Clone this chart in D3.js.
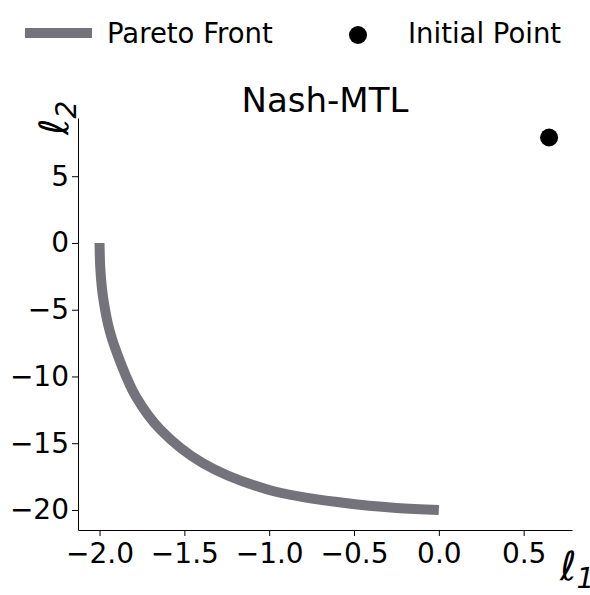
<!DOCTYPE html><html><head><meta charset="utf-8"><script src="https://cdn.jsdelivr.net/npm/d3@7"></script>
<style>body{margin:0;background:#fff}text{font-family:"DejaVu Sans",sans-serif}</style></head><body>
<script>
const frontL1=[-2.0,-1.995,-1.98,-1.94,-1.875,-1.786,-1.64,-1.39,-1.0,-0.54,-0.25,0.0];
const frontL2=[0,-2.0,-4.0,-6.6,-9.0,-11.5,-14.0,-16.5,-18.5,-19.5,-19.85,-20.0];
const initialPoint=[0.65,7.9];
const xTicks=[-2.0,-1.5,-1.0,-0.5,0.0,0.5];
const yTicks=[5,0,-5,-10,-15,-20];
const W=590,H=595;
const svg=d3.select("body").append("svg").attr("width",W).attr("height",H);
const x=d3.scaleLinear().domain([-2.127,0.785]).range([78,572]);
const y=d3.scaleLinear().domain([9.36,-21.5]).range([118,530]);
const fmt=d=>(d<0?"\u2212":"")+Math.abs(d).toFixed(1);
const gx=svg.append("g").attr("transform","translate(0,530)").call(d3.axisBottom(x).tickValues(xTicks).tickFormat(fmt).tickSize(6).tickSizeOuter(0));
const gy=svg.append("g").attr("transform","translate(78,0)").call(d3.axisLeft(y).tickValues(yTicks).tickFormat(d=>(d<0?"\u2212":"")+Math.abs(d)).tickSize(6).tickSizeOuter(0));
[gx,gy].forEach(g=>{g.selectAll("text").attr("font-size",28).attr("fill","#000");g.selectAll("line,path").attr("stroke","#000").attr("stroke-width",1);});
gx.selectAll("text").attr("dy","0.85em");
const pts=frontL1.map((v,i)=>[v,frontL2[i]]);
svg.append("path").attr("d",d3.line().x(d=>x(d[0])).y(d=>y(d[1])).curve(d3.curveCatmullRom.alpha(0.5))(pts))
 .attr("fill","none").attr("stroke","#74737c").attr("stroke-width",10);
svg.append("circle").attr("cx",x(initialPoint[0])).attr("cy",y(initialPoint[1])).attr("r",9).attr("fill","#000");
svg.append("text").attr("x",325).attr("y",112).attr("text-anchor","middle").attr("font-size",34).text("Nash-MTL");
svg.append("text").attr("transform","translate(68,135) rotate(-90)").attr("font-size",40).attr("font-style","italic").html('ℓ<tspan font-size="28" dy="8">2</tspan>');
svg.append("text").attr("x",560).attr("y",580).attr("font-size",40).attr("font-style","italic").html('ℓ<tspan font-size="28" dy="8">1</tspan>');
svg.append("line").attr("x1",25).attr("x2",92).attr("y1",33).attr("y2",33).attr("stroke","#74737c").attr("stroke-width",10);
svg.append("text").attr("x",107).attr("y",43).attr("font-size",27.5).text("Pareto Front");
svg.append("circle").attr("cx",358).attr("cy",35).attr("r",9).attr("fill","#000");
svg.append("text").attr("x",408).attr("y",43).attr("font-size",27.5).text("Initial Point");
</script></body></html>
